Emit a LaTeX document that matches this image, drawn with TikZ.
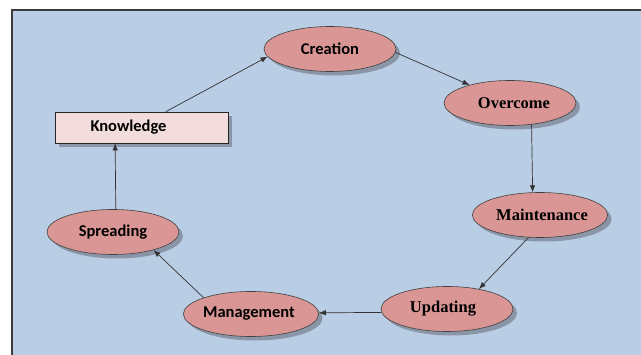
\documentclass[tikz,border=0pt]{standalone}
\usepackage{fontspec}
\usepackage{tikz}
\usetikzlibrary{arrows.meta,shapes.geometric,shadows}

\newfontfamily\calibriface{Carlito}
\newfontfamily\timesface{Liberation Serif}

\definecolor{panel}{RGB}{185,205,228}
\definecolor{framegray}{RGB}{60,60,60}
\definecolor{rose}{RGB}{217,150,148}
\definecolor{blush}{RGB}{242,221,220}
\definecolor{shade}{RGB}{138,150,168}

\begin{document}
\begin{tikzpicture}[x=1pt,y=-1pt,->,>={Latex[length=7pt,width=5.5pt]},thin,
        every edge/.style={draw,line width=0.7pt,black!80},
        phase/.style={ellipse,draw=black!75,fill=rose,line width=0.6pt,
          minimum width=132pt,minimum height=45pt,inner sep=0pt,
          drop shadow={shadow xshift=4pt,shadow yshift=-4pt,fill=shade,opacity=1}},
        sans/.style={font=\calibriface\bfseries\fontsize{16.5}{20}\selectfont},
        serif/.style={font=\timesface\bfseries\fontsize{16.5}{20}\selectfont},
        store/.style={rectangle,draw=black!85,fill=blush,line width=0.7pt,
          minimum width=173pt,minimum height=31pt,inner sep=0pt,
          drop shadow={shadow xshift=4pt,shadow yshift=-4pt,fill=shade,opacity=1}}]

  \useasboundingbox (0,0) rectangle (641,355);
  \fill[panel] (12,10) rectangle (641,355);
  \draw[-,line width=1.5pt,framegray] (12,355) -- (12,10) -- (641,10);

  \node[phase,sans]  (creation)    at (330,49)  {Creation};
  \node[phase,serif] (overcome)    at (510,103) {\kern8pt Overcome};
  \node[phase,serif] (maintenance) at (540,215) {\kern4pt Maintenance};
  \node[phase,serif] (updating)    at (447,309) {Updating\kern8pt};
  \node[phase,sans]  (management)  at (251,314) {Management\kern4pt};
  \node[phase,sans]  (spreading)   at (113,232) {Spreading};
  \node[store,sans]  (knowledge)   at (141.5,127.5) {Knowledge\kern26pt};

  \path
        (knowledge.33)    edge (creation.187)
        (creation.357)    edge (overcome.156)
        (overcome.315)    edge (maintenance.108)
        (maintenance.243) edge (updating.32)
        (updating.183)    edge (management.1)
        (management.161)  edge (spreading.336)
        (spreading.83)    edge (knowledge.211);

\end{tikzpicture}
\end{document}
